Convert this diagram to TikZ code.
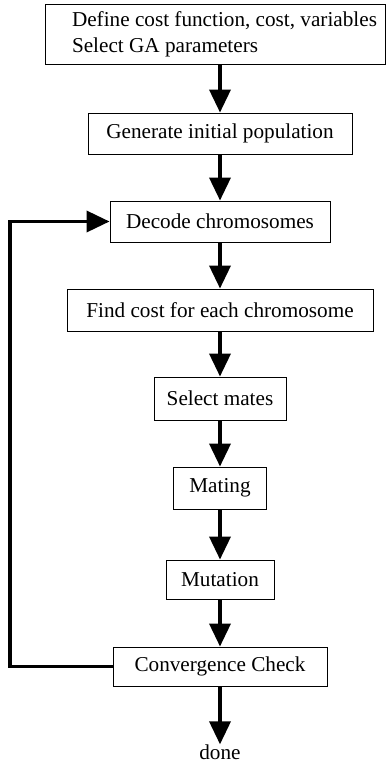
\documentclass[tikz,border=0pt]{standalone}
\usepackage{fontspec}
\setmainfont{Liberation Serif}
\usetikzlibrary{arrows.meta}
\begin{document}
\begin{tikzpicture}[x=1pt,y=-1pt,
  stepbox/.style={draw, line width=0.9pt, inner sep=0pt, font=\fontsize{21.2}{26}\selectfont},
  flow/.style={line width=3.6pt, -{Triangle[length=23pt,width=21pt]}}]
\useasboundingbox (0,0) rectangle (388,766);
\node[stepbox, minimum width=340pt, minimum height=60pt, align=left] (init) at (215,34) {\hspace*{19pt}Define cost function, cost, variables\\\hspace*{19pt}Select GA parameters};
\node[stepbox, minimum width=264pt, minimum height=41pt] (gen) at (220,133.5) {Generate initial population};
\node[stepbox, minimum width=220pt, minimum height=41pt] (decode) at (220,221.5) {Decode chromosomes};
\node[stepbox, minimum width=306pt, minimum height=42pt] (cost) at (220,310) {Find cost for each chromosome};
\node[stepbox, minimum width=132pt, minimum height=43pt] (select) at (220,398.5) {Select mates};
\node[stepbox, minimum width=93pt, minimum height=42pt] (mating) at (220,488) {Mating};
\node[stepbox, minimum width=108pt, minimum height=39pt] (mutation) at (220,579.5) {Mutation};
\node[stepbox, minimum width=214pt, minimum height=39pt] (conv) at (220,666.5) {Convergence Check};
\node[font=\fontsize{21.2}{26}\selectfont, inner sep=0pt] (done) at (220,752) {done};
\coordinate (back) at (10,664);
\draw[flow] (init.south -| gen.north) -- (gen.north);
\draw[flow] (gen) -- (decode);
\draw[flow] (decode) -- (cost);
\draw[flow] (cost) -- (select);
\draw[flow] (select) -- (mating);
\draw[flow] (mating) -- (mutation);
\draw[flow] (mutation) -- (conv);
\draw[flow] (conv.south) -- (done.north);
\draw[flow] (conv.west) -- (conv.west -| back) |- (decode.west);
\end{tikzpicture}
\end{document}
